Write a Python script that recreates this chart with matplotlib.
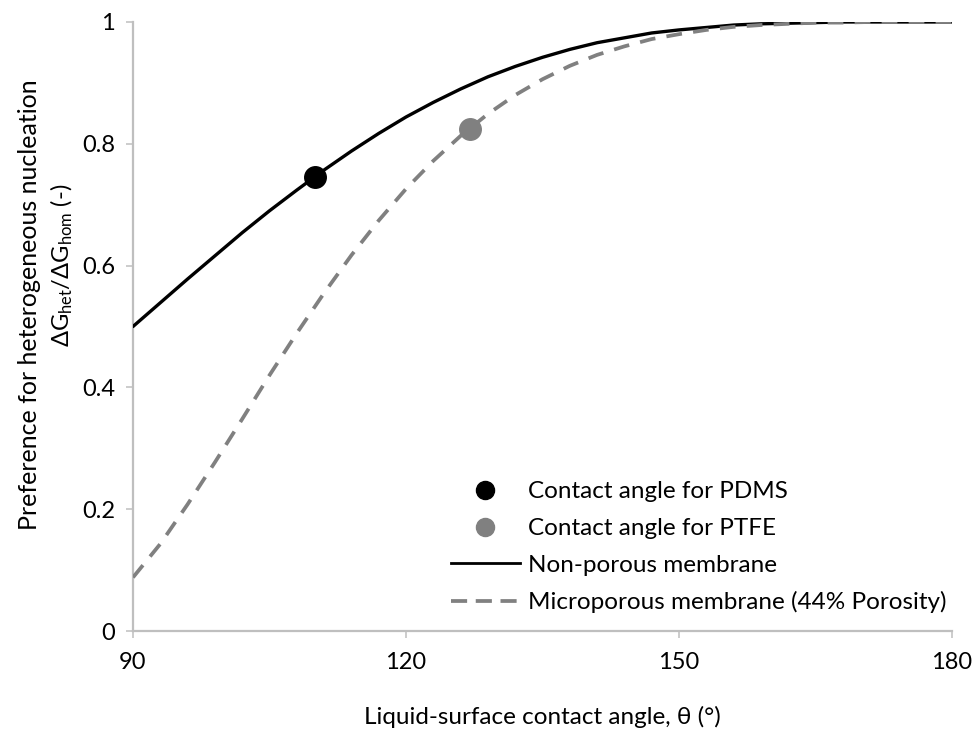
import numpy as np
import matplotlib
matplotlib.use("Agg")
import matplotlib.pyplot as plt
from matplotlib.lines import Line2D

plt.rcParams['font.family'] = ['Lato', 'DejaVu Sans']
plt.rcParams['mathtext.fontset'] = 'custom'
plt.rcParams['mathtext.rm'] = 'Lato'
plt.rcParams['mathtext.it'] = 'Lato:italic'

# Contact angle (degrees) and free-energy ratio for both membrane types
theta = [90, 93, 96, 99, 102, 105, 108, 111, 114, 117, 120, 123, 126, 129,
         132, 135, 138, 141, 144, 147, 150, 153, 156, 159, 162, 165, 168,
         171, 174, 177, 180]
nonporous = [0.500, 0.539, 0.578, 0.616, 0.654, 0.690, 0.724, 0.757, 0.788,
             0.817, 0.844, 0.868, 0.890, 0.910, 0.927, 0.942, 0.955, 0.966,
             0.974, 0.982, 0.987, 0.991, 0.995, 0.997, 0.998, 0.999, 1.000,
             1.000, 1.000, 1.000, 1.000]
microporous = [0.088, 0.143, 0.208, 0.277, 0.348, 0.420, 0.489, 0.555, 0.617,
               0.674, 0.726, 0.772, 0.813, 0.849, 0.880, 0.906, 0.928, 0.946,
               0.960, 0.972, 0.980, 0.987, 0.992, 0.995, 0.997, 0.999, 0.999,
               1.000, 1.000, 1.000, 1.000]

# Measured contact angles of the two membrane materials
pdms_angle, pdms_ratio = 110, 0.746
ptfe_angle, ptfe_ratio = 127, 0.825

xticks = [90, 120, 150, 180]
yticks = [0, 0.2, 0.4, 0.6, 0.8, 1]
ytick_labels = ['0', '0.2', '0.4', '0.6', '0.8', '1']

black = '#000000'
grey = '#808080'
axis_grey = '#BFBFBF'
fs = 17

fig = plt.figure(figsize=(9.76, 7.29), dpi=100)
ax = fig.add_axes([133 / 976, 1 - 631 / 729, (952 - 133) / 976, (631 - 22) / 729])

ax.plot(theta, nonporous, color=black, lw=2.4, solid_capstyle='round', zorder=3)
ax.plot(theta, microporous, color=grey, lw=2.7, dashes=(4.2, 3.0), zorder=3)
ax.plot([pdms_angle], [pdms_ratio], 'o', color=black, ms=15.5, zorder=4)
ax.plot([ptfe_angle], [ptfe_ratio], 'o', color=grey, ms=15.5, zorder=4)

ax.set_xlim(90, 180)
ax.set_ylim(0, 1)
ax.set_xticks(xticks)
ax.set_yticks(yticks)
ax.set_yticklabels(ytick_labels)
ax.tick_params(axis='both', labelsize=fs, color=axis_grey, width=1.1, length=5,
               direction='out')
ax.tick_params(axis='x', pad=10)
ax.tick_params(axis='y', pad=8)
for side in ['top', 'right']:
    ax.spines[side].set_visible(False)
for side in ['left', 'bottom']:
    ax.spines[side].set_color(axis_grey)
    ax.spines[side].set_linewidth(1.6)

ax.set_xlabel('Liquid-surface contact angle, θ (°)', fontsize=17.5, labelpad=24)
fig.text(30 / 976, 1 - 305 / 729, 'Preference for heterogeneous nucleation',
         rotation=90, ha='center', va='center', fontsize=18)
fig.text(62 / 976, 1 - 265 / 729,
         r'ΔG$_{\mathrm{het}}$/ΔG$_{\mathrm{hom}}$ (-)',
         rotation=90, ha='center', va='center', fontsize=fs)

handles = [
    Line2D([], [], ls='none', marker='o', color=black, ms=13),
    Line2D([], [], ls='none', marker='o', color=grey, ms=13),
    Line2D([], [], color=black, lw=2.0),
    Line2D([], [], color=grey, lw=2.7, dashes=(4.3, 2.3)),
]
labels = ['Contact angle for PDMS', 'Contact angle for PTFE',
          'Non-porous membrane', 'Microporous membrane (44% Porosity)']
ax.legend(handles, labels, loc='lower right', bbox_to_anchor=(1.015, 0.0),
          frameon=False, fontsize=17.5, handlelength=2.85, handletextpad=0.33,
          labelspacing=0.64, borderaxespad=0.33)

fig.savefig('out.png', dpi=100)
